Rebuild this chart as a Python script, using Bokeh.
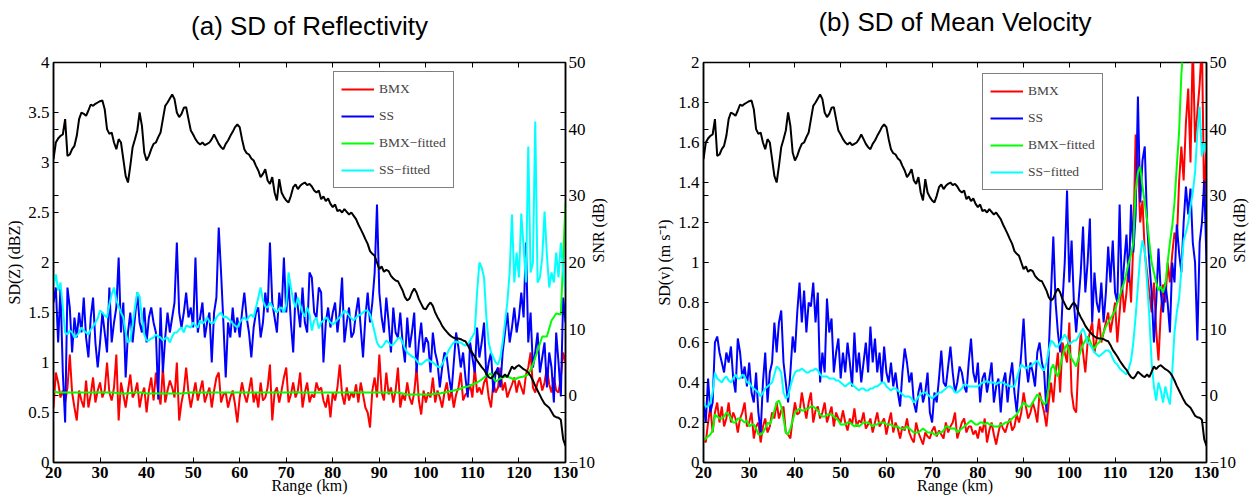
import math
import numpy as np
from bokeh.plotting import figure
from bokeh.models import Range1d, LinearAxis, FixedTicker, Legend, LegendItem
from bokeh.layouts import row
from bokeh.embed import file_html
from bokeh.resources import INLINE

# ---------------- data ----------------
range_km = np.arange(0, 221) * 0.5 + 20.0        # 20 .. 130 km, 0.5 km step
range_km_1 = np.arange(0, 111) * 1.0 + 20.0      # 20 .. 130 km, 1 km step

snr_db = [
    35.5, 38.0, 38.6, 39.0, 39.2, 41.5, 36.0, 36.2, 37.0, 37.5, 39.0, 41.5, 42.5, 42.3, 42.0, 42.8,
    43.7, 43.5, 43.8, 44.0, 44.2, 44.3, 43.0, 40.0, 39.3, 39.5, 38.0, 37.0, 38.5, 38.0, 35.5, 33.0,
    32.0, 34.5, 37.3, 38.5, 39.8, 42.5, 40.5, 36.5, 35.3, 36.0, 37.0, 37.8, 38.0, 38.8, 39.5, 41.5,
    43.5, 44.0, 44.6, 45.2, 44.5, 42.5, 41.8, 42.3, 43.2, 43.3, 41.5, 39.8, 39.2, 38.5, 38.0, 37.7,
    38.0, 37.6, 37.8, 38.0, 38.5, 39.2, 38.5, 37.8, 37.3, 37.0, 37.8, 38.3, 39.0, 39.6, 40.3, 40.7,
    40.3, 38.5, 37.0, 36.4, 36.2, 35.6, 35.3, 34.5, 33.8, 32.8, 33.3, 34.0, 32.3, 31.8, 32.8, 30.5,
    29.3, 32.5, 30.5, 29.8, 29.3, 29.0, 30.0, 31.3, 31.7, 31.0, 31.5, 31.8, 32.0, 31.6, 31.8, 31.4,
    30.8, 30.5, 30.8, 29.5, 29.9, 29.2, 29.6, 28.8, 28.3, 28.7, 27.7, 27.9, 27.5, 28.0, 27.6, 27.2,
    27.5, 27.0, 26.5, 25.7, 25.0, 24.3, 23.5, 22.8, 21.7, 21.3, 21.0, 20.0, 19.0, 19.4, 18.6, 18.9,
    18.7, 18.0, 17.6, 17.3, 17.2, 16.5, 15.8, 14.8, 14.3, 14.6, 15.5, 16.1, 15.5, 14.5, 13.8, 13.1,
    13.0, 13.6, 14.0, 13.5, 12.5, 11.8, 11.2, 10.5, 10.0, 9.6, 9.2, 8.9, 8.7, 8.6, 8.6, 8.5,
    8.3, 8.2, 7.6, 6.9, 6.4, 5.9, 5.3, 4.8, 4.3, 3.9, 3.3, 2.8, 2.6, 3.0, 3.6, 3.3,
    3.0, 2.8, 3.2, 2.8, 3.6, 4.4, 4.0, 4.4, 4.6, 4.3, 4.0, 3.8, 3.5, 3.0, 2.3, 1.5,
    0.8, 0.1, -0.6, -1.2, -1.5, -1.8, -2.4, -3.0, -3.2, -3.3, -3.6, -6.5, -7.5,
]

# ---- panel (a): SD of reflectivity (dBZ) ----
bmx_z = [
    0.55, 0.90, 0.80, 0.65, 0.72, 0.60, 0.75, 1.08, 0.70, 0.55, 0.42, 0.72, 0.62, 0.55, 0.82, 0.55,
    0.68, 0.85, 0.60, 0.72, 0.80, 0.65, 0.72, 1.00, 0.70, 0.62, 0.75, 1.08, 0.42, 0.80, 0.68, 0.55,
    0.72, 0.88, 0.65, 0.70, 0.80, 0.55, 0.68, 0.75, 0.50, 0.72, 0.85, 0.62, 0.90, 0.70, 0.58, 0.95,
    0.60, 0.72, 0.82, 0.75, 0.65, 1.00, 0.42, 0.60, 0.72, 0.95, 0.70, 0.55, 0.68, 0.80, 0.62, 0.72,
    0.82, 0.60, 0.68, 0.75, 0.55, 0.72, 0.85, 0.90, 0.60, 0.68, 0.70, 0.55, 0.65, 0.72, 0.58, 0.40,
    0.65, 0.80, 0.68, 0.60, 0.72, 0.85, 0.60, 0.70, 0.55, 0.80, 0.62, 0.65, 0.75, 0.98, 0.42, 0.70,
    0.75, 0.60, 0.72, 0.85, 0.95, 0.60, 0.68, 0.80, 0.65, 0.72, 0.90, 0.55, 0.70, 0.80, 0.60, 0.68,
    0.65, 0.80, 0.72, 0.75, 0.62, 0.55, 0.68, 0.45, 0.70, 0.62, 0.75, 0.98, 0.68, 0.58, 0.75, 0.62,
    0.70, 0.65, 0.78, 0.60, 0.80, 0.68, 0.55, 0.50, 0.35, 0.72, 0.85, 0.65, 1.08, 0.70, 0.62, 0.90,
    0.68, 0.75, 0.60, 0.72, 0.95, 0.55, 0.68, 0.62, 0.80, 0.65, 0.58, 0.70, 0.95, 0.62, 0.48, 0.72,
    0.60, 0.70, 0.65, 0.85, 0.60, 0.72, 0.65, 0.55, 0.70, 0.80, 0.62, 0.72, 0.55, 0.68, 0.75, 0.90,
    0.62, 0.68, 0.70, 0.78, 0.65, 0.95, 0.70, 0.75, 0.68, 0.80, 0.85, 0.65, 0.55, 0.80, 0.70, 0.75,
    0.95, 0.72, 0.80, 0.65, 0.72, 0.78, 0.85, 0.70, 0.82, 0.75, 0.68, 0.88, 0.95, 1.10, 0.75, 0.70,
    0.80, 0.85, 0.72, 0.80, 0.95, 0.78, 0.70, 0.85, 0.72, 0.70, 0.85, 1.10, 1.00,
]

ss_z = [
    1.60, 1.75, 1.20, 1.75, 0.90, 0.40, 1.75, 1.55, 1.10, 1.45, 1.25, 1.50, 1.30, 1.65, 1.25, 1.05,
    1.45, 1.65, 1.20, 0.95, 1.20, 1.50, 1.30, 1.10, 1.75, 1.20, 1.40, 1.55, 2.05, 1.30, 1.60, 0.85,
    1.30, 1.50, 1.20, 1.45, 1.70, 1.40, 1.30, 1.55, 1.20, 1.45, 1.55, 1.40, 1.30, 0.63, 1.55, 0.90,
    1.25, 1.50, 1.30, 1.45, 1.60, 2.20, 1.50, 1.35, 1.50, 1.70, 1.45, 1.55, 1.35, 2.05, 1.30, 1.45,
    1.60, 1.25, 1.40, 1.50, 1.00, 1.50, 1.65, 2.35, 1.90, 1.40, 0.85, 1.40, 1.25, 1.55, 1.30, 1.45,
    1.25, 1.50, 1.70, 1.45, 1.30, 1.05, 1.35, 1.50, 1.55, 1.25, 1.40, 1.70, 1.50, 2.20, 1.60, 1.45,
    1.30, 1.70, 1.50, 2.05, 1.50, 1.80, 1.40, 1.10, 1.70, 1.55, 1.35, 1.75, 1.40, 1.30, 1.90, 1.85,
    1.50, 1.45, 1.75, 1.70, 1.00, 1.40, 1.55, 1.35, 1.50, 1.60, 1.30, 1.50, 1.85, 1.20, 1.40, 1.55,
    1.25, 1.30, 1.50, 1.65, 1.35, 1.05, 1.45, 1.70, 1.40, 1.60, 1.90, 2.58, 1.70, 1.45, 1.30, 1.65,
    1.40, 1.10, 1.55, 1.30, 1.25, 1.50, 1.20, 1.00, 1.45, 1.15, 1.30, 1.50, 0.90, 1.20, 1.40, 1.10,
    1.25, 1.20, 0.90, 1.30, 1.10, 1.00, 0.75, 0.95, 1.10, 1.05, 0.85, 0.70, 1.00, 1.30, 1.15, 0.95,
    1.10, 0.85, 0.65, 1.20, 1.05, 0.90, 1.35, 1.05, 1.20, 1.40, 0.85, 1.00, 1.10, 0.70, 0.90, 0.95,
    0.75, 1.10, 1.30, 1.50, 1.20, 1.35, 1.55, 1.30, 1.45, 1.70, 1.45, 2.20, 1.20, 1.50, 0.95, 1.10,
    1.30, 0.90, 1.05, 1.20, 0.75, 1.10, 0.95, 0.60, 1.30, 1.00, 0.66, 1.65, 1.40,
]

bmx_fit_z = [
    0.71, 0.70, 0.70, 0.70, 0.70, 0.70, 0.70, 0.70, 0.70, 0.70, 0.70, 0.70, 0.70, 0.70, 0.69, 0.69,
    0.69, 0.70, 0.70, 0.70, 0.69, 0.69, 0.69, 0.69, 0.69, 0.69, 0.69, 0.69, 0.69, 0.70, 0.70, 0.70,
    0.70, 0.70, 0.70, 0.70, 0.70, 0.70, 0.70, 0.70, 0.70, 0.70, 0.70, 0.70, 0.70, 0.70, 0.70, 0.70,
    0.70, 0.70, 0.70, 0.70, 0.70, 0.70, 0.70, 0.70, 0.70, 0.70, 0.70, 0.70, 0.70, 0.70, 0.70, 0.70,
    0.70, 0.70, 0.70, 0.70, 0.70, 0.70, 0.70, 0.70, 0.70, 0.70, 0.70, 0.69, 0.68, 0.68, 0.68, 0.68,
    0.68, 0.68, 0.69, 0.69, 0.70, 0.71, 0.72, 0.73, 0.75, 0.76, 0.78, 0.80, 0.83, 0.87, 0.89, 0.81,
    0.84, 0.86, 0.85, 0.83, 0.85, 0.86, 0.88, 0.98, 1.12, 1.26, 1.26, 1.42, 1.49, 1.48, 2.60,
]

ss_fit_z = [
    1.77, 1.88, 1.72, 1.80, 1.55, 1.30, 1.28, 1.32, 1.30, 1.25, 1.27, 1.30, 1.35, 1.32, 1.30, 1.28,
    1.33, 1.36, 1.40, 1.44, 1.52, 1.50, 1.47, 1.45, 1.58, 1.68, 1.75, 1.62, 1.56, 1.50, 1.45, 1.30,
    1.20, 1.22, 1.38, 1.55, 1.70, 1.66, 1.45, 1.28, 1.22, 1.22, 1.24, 1.25, 1.28, 1.26, 1.25, 1.22,
    1.24, 1.25, 1.20, 1.26, 1.30, 1.30, 1.33, 1.35, 1.30, 1.37, 1.36, 1.35, 1.40, 1.37, 1.35, 1.42,
    1.39, 1.41, 1.45, 1.41, 1.39, 1.40, 1.45, 1.48, 1.50, 1.45, 1.46, 1.44, 1.42, 1.39, 1.37, 1.35,
    1.40, 1.43, 1.45, 1.42, 1.46, 1.48, 1.45, 1.55, 1.65, 1.75, 1.62, 1.56, 1.55, 1.60, 1.56, 1.53,
    1.50, 1.54, 1.55, 1.50, 1.58, 1.90, 1.75, 1.62, 1.55, 1.65, 1.58, 1.50, 1.46, 1.55, 1.48, 1.32,
    1.42, 1.45, 1.34, 1.40, 1.42, 1.45, 1.43, 1.40, 1.38, 1.40, 1.43, 1.45, 1.48, 1.52, 1.50, 1.47,
    1.44, 1.42, 1.45, 1.47, 1.48, 1.50, 1.52, 1.52, 1.48, 1.40, 1.30, 1.20, 1.16, 1.15, 1.18, 1.22,
    1.20, 1.17, 1.18, 1.21, 1.24, 1.25, 1.20, 1.14, 1.10, 1.08, 1.06, 1.05, 1.02, 0.99, 0.98, 1.00,
    1.02, 1.03, 1.01, 1.00, 0.98, 0.96, 0.95, 0.98, 1.03, 1.08, 1.13, 1.17, 1.20, 1.21, 1.20, 1.20,
    1.18, 1.17, 1.18, 1.22, 1.26, 1.30, 1.70, 2.00, 1.95, 1.85, 1.45, 1.20, 1.10, 1.05, 1.00, 0.98,
    1.05, 1.20, 1.40, 1.60, 1.90, 2.48, 1.80, 2.10, 1.85, 2.49, 2.15, 1.80, 3.16, 1.90, 2.00, 3.41,
    1.80, 1.85, 2.05, 2.51, 2.08, 1.75, 1.90, 1.80, 2.10, 1.85, 2.20, 1.90, 1.70,
]

# ---- panel (b): SD of mean velocity (m/s) ----
bmx_v = [
    0.12, 0.10, 0.20, 0.28, 0.15, 0.25, 0.30, 0.20, 0.28, 0.18, 0.22, 0.30, 0.20, 0.25, 0.22, 0.15,
    0.22, 0.25, 0.30, 0.18, 0.20, 0.25, 0.12, 0.18, 0.20, 0.10, 0.18, 0.22, 0.15, 0.18, 0.25, 0.22,
    0.30, 0.22, 0.26, 0.28, 0.15, 0.14, 0.12, 0.22, 0.30, 0.24, 0.25, 0.35, 0.28, 0.22, 0.30, 0.35,
    0.20, 0.26, 0.28, 0.22, 0.25, 0.30, 0.20, 0.24, 0.28, 0.18, 0.25, 0.22, 0.20, 0.26, 0.20, 0.16,
    0.22, 0.19, 0.27, 0.18, 0.21, 0.20, 0.25, 0.17, 0.19, 0.22, 0.15, 0.20, 0.25, 0.18, 0.20, 0.22,
    0.14, 0.20, 0.25, 0.15, 0.20, 0.17, 0.12, 0.18, 0.16, 0.22, 0.15, 0.12, 0.10, 0.20, 0.15, 0.12,
    0.09, 0.15, 0.13, 0.12, 0.16, 0.18, 0.13, 0.16, 0.14, 0.12, 0.20, 0.15, 0.18, 0.20, 0.25, 0.12,
    0.16, 0.20, 0.22, 0.15, 0.18, 0.18, 0.14, 0.16, 0.12, 0.18, 0.15, 0.22, 0.10, 0.16, 0.20, 0.14,
    0.09, 0.15, 0.20, 0.17, 0.15, 0.19, 0.22, 0.16, 0.18, 0.24, 0.20, 0.25, 0.35, 0.28, 0.22, 0.25,
    0.30, 0.26, 0.20, 0.35, 0.30, 0.25, 0.18, 0.30, 0.40, 0.30, 0.45, 0.55, 0.35, 0.60, 0.55, 0.50,
    0.70, 0.35, 0.27, 0.25, 0.50, 0.65, 0.55, 0.45, 0.60, 0.65, 0.70, 0.55, 0.62, 0.72, 0.60, 0.65,
    0.70, 0.75, 0.65, 0.72, 0.80, 0.60, 0.75, 0.90, 0.75, 0.85, 1.00, 0.80, 1.10, 1.64, 1.50, 1.20,
    1.31, 1.05, 0.95, 0.85, 0.75, 0.90, 0.66, 0.51, 0.75, 0.89, 0.80, 1.00, 0.90, 1.04, 1.15, 1.10,
    1.40, 1.58, 1.41, 1.70, 1.87, 1.50, 2.10, 1.60, 1.75, 1.89, 2.10, 1.28, 1.60,
]

ss_v = [
    0.30, 0.20, 0.42, 0.25, 0.30, 0.60, 0.63, 0.55, 0.50, 0.45, 0.55, 0.50, 0.58, 0.42, 0.35, 0.62,
    0.55, 0.42, 0.48, 0.38, 0.50, 0.35, 0.30, 0.45, 0.25, 0.15, 0.40, 0.55, 0.30, 0.45, 0.50, 0.70,
    0.55, 0.70, 0.76, 0.50, 0.40, 0.30, 0.45, 0.63, 0.55, 0.75, 0.90, 0.70, 0.86, 0.65, 0.80, 0.78,
    0.90, 0.70, 0.85, 0.40, 0.55, 0.45, 0.82, 0.65, 0.72, 0.45, 0.55, 0.62, 0.42, 0.55, 0.45, 0.60,
    0.50, 0.38, 0.65, 0.45, 0.55, 0.40, 0.50, 0.60, 0.45, 0.68, 0.50, 0.62, 0.45, 0.55, 0.40, 0.58,
    0.45, 0.40, 0.50, 0.38, 0.45, 0.35, 0.28, 0.45, 0.57, 0.50, 0.40, 0.45, 0.30, 0.25, 0.35, 0.40,
    0.30, 0.35, 0.45, 0.25, 0.20, 0.35, 0.30, 0.42, 0.56, 0.40, 0.38, 0.48, 0.58, 0.45, 0.35, 0.40,
    0.48, 0.45, 0.38, 0.35, 0.50, 0.62, 0.45, 0.40, 0.50, 0.30, 0.42, 0.45, 0.35, 0.42, 0.50, 0.30,
    0.38, 0.42, 0.25, 0.40, 0.45, 0.30, 0.42, 0.50, 0.35, 0.25, 0.40, 0.55, 0.72, 0.50, 0.40, 0.50,
    0.45, 0.38, 0.55, 0.60, 0.50, 0.45, 0.25, 0.55, 0.85, 1.13, 0.80, 0.65, 0.55, 0.80, 1.00, 1.36,
    0.90, 1.11, 0.80, 0.65, 0.80, 0.95, 1.18, 0.85, 1.00, 1.22, 0.70, 0.95, 0.80, 0.75, 0.90, 0.70,
    0.85, 1.08, 0.90, 1.11, 0.85, 0.80, 1.29, 0.85, 1.00, 1.14, 0.90, 1.29, 1.05, 1.24, 1.83, 1.30,
    1.51, 1.58, 1.20, 1.00, 0.85, 0.60, 0.80, 1.07, 0.85, 0.75, 0.90, 0.80, 0.65, 1.00, 0.90, 1.19,
    1.05, 0.95, 1.20, 1.38, 1.24, 1.37, 1.10, 1.00, 0.61, 1.10, 1.20, 1.41, 1.00,
]

bmx_fit_v = [
    0.11, 0.12, 0.13, 0.14, 0.16, 0.24, 0.23, 0.22, 0.22, 0.23, 0.25, 0.24, 0.22, 0.20, 0.20, 0.22,
    0.22, 0.21, 0.20, 0.21, 0.18, 0.19, 0.19, 0.17, 0.14, 0.14, 0.15, 0.17, 0.20, 0.19, 0.22, 0.26,
    0.30, 0.31, 0.28, 0.22, 0.15, 0.14, 0.17, 0.21, 0.25, 0.26, 0.27, 0.26, 0.26, 0.27, 0.27, 0.28,
    0.28, 0.27, 0.26, 0.24, 0.23, 0.23, 0.24, 0.24, 0.24, 0.23, 0.22, 0.21, 0.19, 0.19, 0.19, 0.20,
    0.20, 0.19, 0.18, 0.19, 0.18, 0.19, 0.20, 0.20, 0.20, 0.19, 0.18, 0.19, 0.19, 0.20, 0.20, 0.20,
    0.19, 0.19, 0.19, 0.18, 0.18, 0.18, 0.17, 0.17, 0.17, 0.18, 0.17, 0.16, 0.15, 0.15, 0.15, 0.16,
    0.17, 0.16, 0.15, 0.15, 0.15, 0.14, 0.14, 0.15, 0.15, 0.16, 0.18, 0.18, 0.17, 0.17, 0.17, 0.15,
    0.16, 0.17, 0.18, 0.19, 0.20, 0.21, 0.20, 0.19, 0.19, 0.20, 0.20, 0.19, 0.20, 0.19, 0.19, 0.18,
    0.18, 0.18, 0.19, 0.19, 0.20, 0.20, 0.21, 0.22, 0.23, 0.24, 0.26, 0.28, 0.30, 0.29, 0.28, 0.28,
    0.30, 0.32, 0.34, 0.33, 0.31, 0.29, 0.30, 0.38, 0.47, 0.49, 0.45, 0.43, 0.48, 0.53, 0.57, 0.59,
    0.55, 0.52, 0.50, 0.48, 0.52, 0.56, 0.59, 0.61, 0.63, 0.61, 0.58, 0.57, 0.59, 0.60, 0.62, 0.65,
    0.68, 0.70, 0.72, 0.74, 0.76, 0.80, 0.83, 0.87, 0.90, 0.95, 1.00, 1.04, 1.10, 1.36, 1.45, 1.48,
    1.38, 1.30, 1.21, 1.10, 1.00, 0.95, 0.90, 0.86, 0.88, 0.85, 0.89, 1.00, 1.10, 1.18, 1.30, 1.48,
    1.65, 1.94, 2.10, 2.30, 2.40, 2.40, 2.40, 2.40, 2.40, 2.40, 2.40, 2.40, 2.40,
]

ss_fit_v = [
    0.30, 0.28, 0.28, 0.30, 0.35, 0.45, 0.42, 0.41, 0.40, 0.42, 0.43, 0.41, 0.40, 0.42, 0.44, 0.42,
    0.42, 0.44, 0.43, 0.40, 0.40, 0.38, 0.37, 0.36, 0.35, 0.33, 0.35, 0.37, 0.38, 0.39, 0.40, 0.44,
    0.48, 0.47, 0.45, 0.35, 0.32, 0.33, 0.38, 0.42, 0.45, 0.46, 0.46, 0.47, 0.46, 0.45, 0.45, 0.46,
    0.46, 0.47, 0.46, 0.44, 0.43, 0.43, 0.43, 0.42, 0.42, 0.42, 0.41, 0.41, 0.40, 0.39, 0.38, 0.39,
    0.40, 0.39, 0.38, 0.37, 0.36, 0.37, 0.37, 0.36, 0.36, 0.37, 0.37, 0.38, 0.38, 0.39, 0.40, 0.40,
    0.38, 0.37, 0.36, 0.37, 0.37, 0.36, 0.35, 0.34, 0.33, 0.33, 0.33, 0.32, 0.30, 0.31, 0.33, 0.34,
    0.35, 0.35, 0.34, 0.33, 0.32, 0.33, 0.34, 0.35, 0.35, 0.36, 0.37, 0.38, 0.38, 0.37, 0.35, 0.35,
    0.36, 0.37, 0.39, 0.39, 0.38, 0.38, 0.38, 0.38, 0.38, 0.39, 0.40, 0.40, 0.41, 0.40, 0.40, 0.40,
    0.39, 0.40, 0.40, 0.40, 0.39, 0.39, 0.38, 0.38, 0.38, 0.42, 0.46, 0.49, 0.48, 0.47, 0.48, 0.48,
    0.49, 0.50, 0.51, 0.49, 0.47, 0.46, 0.50, 0.56, 0.61, 0.60, 0.58, 0.58, 0.60, 0.62, 0.64, 0.62,
    0.59, 0.60, 0.61, 0.61, 0.63, 0.65, 0.67, 0.64, 0.60, 0.59, 0.57, 0.55, 0.54, 0.53, 0.54, 0.55,
    0.56, 0.56, 0.55, 0.52, 0.50, 0.49, 0.47, 0.46, 0.45, 0.44, 0.47, 0.51, 0.60, 0.73, 0.88, 1.03,
    1.11, 1.06, 0.90, 0.73, 0.50, 0.38, 0.31, 0.40, 0.36, 0.30, 0.38, 0.33, 0.29, 0.45, 0.65, 0.75,
    0.82, 0.96, 1.11, 1.15, 1.20, 1.28, 1.35, 1.45, 1.65, 1.78, 1.53, 1.60, 1.55,
]

x_ticks = [20, 30, 40, 50, 60, 70, 80, 90, 100, 110, 120, 130]
z_ticks = [0, 0.5, 1, 1.5, 2, 2.5, 3, 3.5, 4]
z_tick_labels = ["0", "0.5", "1", "1.5", "2", "2.5", "3", "3.5", "4"]
v_ticks = [0, 0.2, 0.4, 0.6, 0.8, 1, 1.2, 1.4, 1.6, 1.8, 2]
v_tick_labels = ["0", "0.2", "0.4", "0.6", "0.8", "1", "1.2", "1.4", "1.6", "1.8", "2"]
snr_ticks = [-10, 0, 10, 20, 30, 40, 50]
snr_tick_labels = ["\u221210", "0", "10", "20", "30", "40", "50"]
legend_labels = ["BMX", "SS", "BMX\u2212fitted", "SS\u2212fitted"]
series_colors = ["#ff0000", "#0000ff", "#00ff00", "#00ffff"]

SERIF = "Liberation Serif"
SANS = "Liberation Sans"


def style_axis(ax, size, bold=False):
    ax.major_label_text_font = SERIF
    ax.major_label_text_font_size = size
    ax.major_label_text_font_style = "bold" if bold else "normal"
    ax.major_label_text_color = "black"
    ax.axis_label_text_font = SERIF
    ax.axis_label_text_font_style = "normal"
    ax.axis_label_text_color = "black"
    ax.axis_line_color = "black"
    ax.axis_line_width = 1.5
    ax.major_tick_line_color = "black"
    ax.major_tick_line_width = 1
    ax.major_tick_in = 5
    ax.major_tick_out = 0
    ax.minor_tick_in = 0
    ax.minor_tick_out = 0
    ax.major_label_standoff = 3


def ghost_axis(ticks, **kw):
    ax = LinearAxis(ticker=FixedTicker(ticks=ticks), **kw)
    ax.major_label_overrides = {t: "" for t in ticks}
    ax.major_label_text_font_size = "0px"
    ax.major_label_standoff = 0
    ax.axis_line_color = None
    ax.major_tick_line_color = "black"
    ax.major_tick_in = 5
    ax.major_tick_out = 0
    ax.minor_tick_in = 0
    ax.minor_tick_out = 0
    return ax


def make_panel(title, y_end, y_ticks, y_labels, y_label, curves, fit_x,
               width, b_left, b_right, b_top, title_gap, legend_xy):
    p = figure(width=width, height=499, x_range=Range1d(20, 130),
               y_range=Range1d(0, y_end), output_backend="svg",
               toolbar_location=None, tools="", title_location=None,
               min_border_left=b_left, min_border_right=b_right,
               min_border_top=b_top, min_border_bottom=37)
    p.extra_y_ranges = {"snr": Range1d(-10, 50)}
    p.xgrid.visible = False
    p.ygrid.visible = False
    p.outline_line_color = "black"
    p.outline_line_width = 1.5
    p.background_fill_color = "white"
    p.border_fill_color = "white"

    xa = p.xaxis[0]
    xa.ticker = FixedTicker(ticks=x_ticks)
    style_axis(xa, "17px", bold=True)
    xa.major_label_standoff = 4
    xa.axis_label = "Range (km)"
    xa.axis_label_text_font_size = "16px"
    xa.axis_label_standoff = -4

    ya = p.yaxis[0]
    ya.ticker = FixedTicker(ticks=y_ticks)
    ya.major_label_overrides = dict(zip(y_ticks, y_labels))
    style_axis(ya, "17px")
    ya.major_label_standoff = 4
    ya.axis_label = y_label
    ya.axis_label_text_font_size = "16px"
    ya.axis_label_standoff = 2

    ra = LinearAxis(y_range_name="snr", ticker=FixedTicker(ticks=snr_ticks))
    ra.major_label_overrides = dict(zip(snr_ticks, snr_tick_labels))
    style_axis(ra, "17px")
    ra.major_label_standoff = 3
    ra.axis_label = "SNR (dB)"
    ra.axis_label_text_font_size = "16px"
    ra.axis_label_standoff = 0
    if "axis_label_orientation" in ra.properties():
        ra.axis_label_orientation = math.pi / 2
    p.add_layout(ra, "right")

    # top axis: mirrored inward ticks, panel title carried as its label
    top = ghost_axis(x_ticks)
    top.axis_label = title
    top.axis_label_text_font = SANS
    top.axis_label_text_font_size = "26px"
    top.axis_label_text_font_style = "normal"
    top.axis_label_text_color = "black"
    top.axis_label_standoff = title_gap
    p.add_layout(top, "above")

    gl = ghost_axis(snr_ticks, y_range_name="snr")
    gr = ghost_axis(y_ticks)
    p.left = [gl] + list(p.left)
    p.right = [gr] + list(p.right)

    renderers = []
    xs = [range_km, range_km, fit_x[0], fit_x[1]]
    for x, y, c in zip(xs, curves, series_colors):
        renderers.append(p.line(x, y, line_color=c, line_width=2))
    p.line(range_km, snr_db, line_color="black", line_width=2, y_range_name="snr")

    items = [LegendItem(label=lab, renderers=[r]) for lab, r in zip(legend_labels, renderers)]
    leg = Legend(items=items, location=legend_xy)
    leg.label_text_font = SERIF
    leg.label_text_font_size = "13.5px"
    leg.glyph_width = 33
    leg.glyph_height = 20
    leg.label_height = 20
    leg.spacing = 7
    leg.padding = 7
    leg.margin = 0
    leg.label_standoff = 5
    leg.border_line_color = "black"
    leg.border_line_width = 1
    leg.background_fill_color = "white"
    leg.background_fill_alpha = 1
    p.add_layout(leg)
    return p


pa = make_panel("(a) SD of Reflectivity", 4, z_ticks, z_tick_labels, "SD(Z) (dBZ)",
                [bmx_z, ss_z, bmx_fit_z, ss_fit_z], (range_km_1, range_km),
                640, 53, 75, 58, 22, (280, 274))
pb = make_panel("(b) SD of Mean Velocity", 2, v_ticks, v_tick_labels,
                "SD(v) (m s\u207b\u00b9)",
                [bmx_v, ss_v, bmx_fit_v, ss_fit_v], (range_km, range_km),
                619, 63, 48, 62, 26, (279, 272))

layout = row(pa, pb)
open("out.html", "w").write(file_html(layout, INLINE))
